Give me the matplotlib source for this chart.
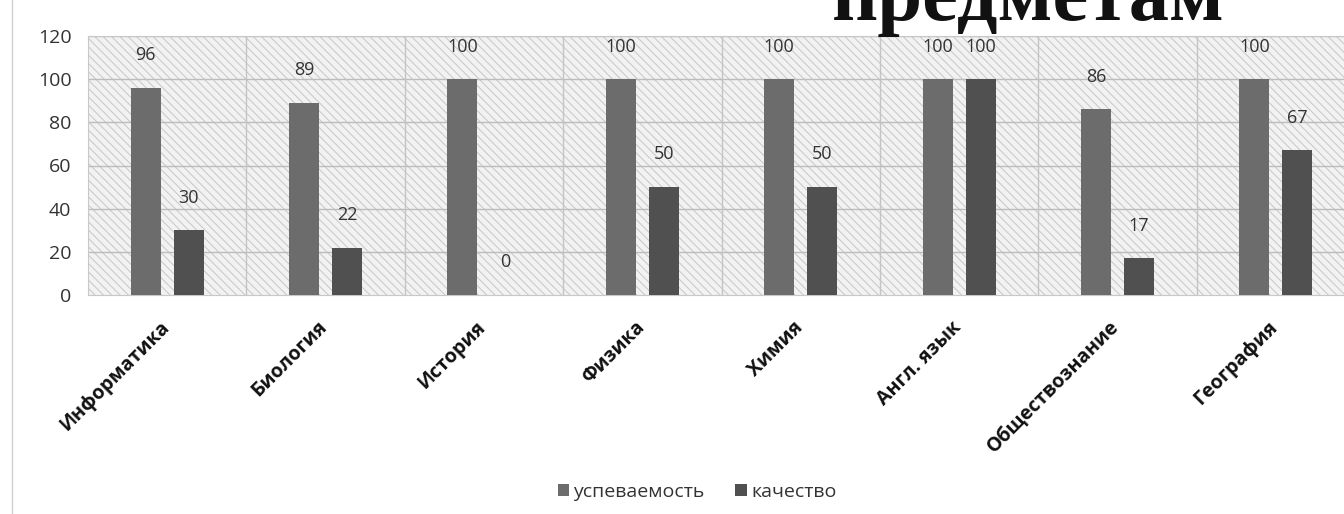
import matplotlib
matplotlib.use("Agg")
import matplotlib.pyplot as plt
import matplotlib.transforms as mtransforms
import numpy as np
from matplotlib.patches import Rectangle

categories = ["Информатика", "Биология", "История", "Физика", "Химия",
              "Англ. язык", "Обществознание", "География"]
uspevaemost = [96, 89, 100, 100, 100, 100, 86, 100]
kachestvo = [30, 22, 0, 50, 50, 100, 17, 67]
series_names = ["успеваемость", "качество"]
y_ticks = [0, 20, 40, 60, 80, 100, 120]

plt.rcParams['font.family'] = ['Open Sans', 'DejaVu Sans']
plt.rcParams['hatch.linewidth'] = 0.7

fig = plt.figure(figsize=(13.44, 5.14), dpi=100)
ax = fig.add_axes([88/1344, 1 - 295/514, 1 - 88/1344, (295 - 36)/514])

x = np.arange(len(categories))
w = 0.19
off = 0.136
c1 = "#6c6c6c"
c2 = "#505050"

ax.set_facecolor("#f2f2f2")
ax.add_patch(Rectangle((0, 0), 1, 1, transform=ax.transAxes, facecolor="none",
                       edgecolor="#c6c6c6", hatch="\\\\\\\\", linewidth=0, zorder=0))

b1 = ax.bar(x - off, uspevaemost, w, color=c1, zorder=3, label=series_names[0])
b2 = ax.bar(x + off, kachestvo, w, color=c2, zorder=3, label=series_names[1])

for bars, vals in ((b1, uspevaemost), (b2, kachestvo)):
    for r, v in zip(bars, vals):
        ax.annotate(str(v), (r.get_x() + r.get_width() / 2, v),
                    xytext=(0, 17), textcoords="offset points",
                    ha="center", va="bottom", fontsize=13, color="#333333")

ax.set_ylim(0, 120)
ax.set_yticks(y_ticks)
ax.set_xlim(-0.5, 7.43)
ax.set_xticks(x)
ax.set_xticklabels(categories, rotation=45, ha="right", rotation_mode="anchor",
                   fontsize=14, fontweight="bold", color="#111111")
ax.tick_params(axis="both", length=0)
ax.tick_params(axis="y", pad=12, labelsize=14, labelcolor="#333333")
ax.tick_params(axis="x", pad=16)
shift = mtransforms.ScaledTranslation(-8/100, 0, fig.dpi_scale_trans)
for lbl in ax.get_xticklabels():
    lbl.set_transform(lbl.get_transform() + shift)

for yv in y_ticks[1:]:
    ax.axhline(yv, color="#bcbcbc", linewidth=1, zorder=1)
for xv in np.arange(0.5, len(categories) - 0.5, 1):
    ax.axvline(xv, color="#c4c4c4", linewidth=1, zorder=1)
for s in ax.spines.values():
    s.set_color("#c8c8c8")
ax.spines["right"].set_visible(False)

leg = fig.legend(handles=[b1, b2], loc="center", bbox_to_anchor=(697/1344, 1 - 492/514),
                 ncol=2, frameon=False, fontsize=14, handlelength=0.6, handleheight=0.6,
                 handletextpad=0.2, columnspacing=1.6)
for t in leg.get_texts():
    t.set_color("#333333")

# partially visible title at the top edge (cut off in the reference scan)
fig.text(1225/1344, 1 - 20/514, "предметам", ha="right", va="baseline",
         fontsize=58, fontweight="bold", family="Liberation Serif", color="#111111")

# page border line on the left
fig.add_artist(plt.Line2D([12/1344, 12/1344], [0, 1], transform=fig.transFigure,
                          color="#d0d0d0", linewidth=1))

fig.savefig("out.png", dpi=100)
